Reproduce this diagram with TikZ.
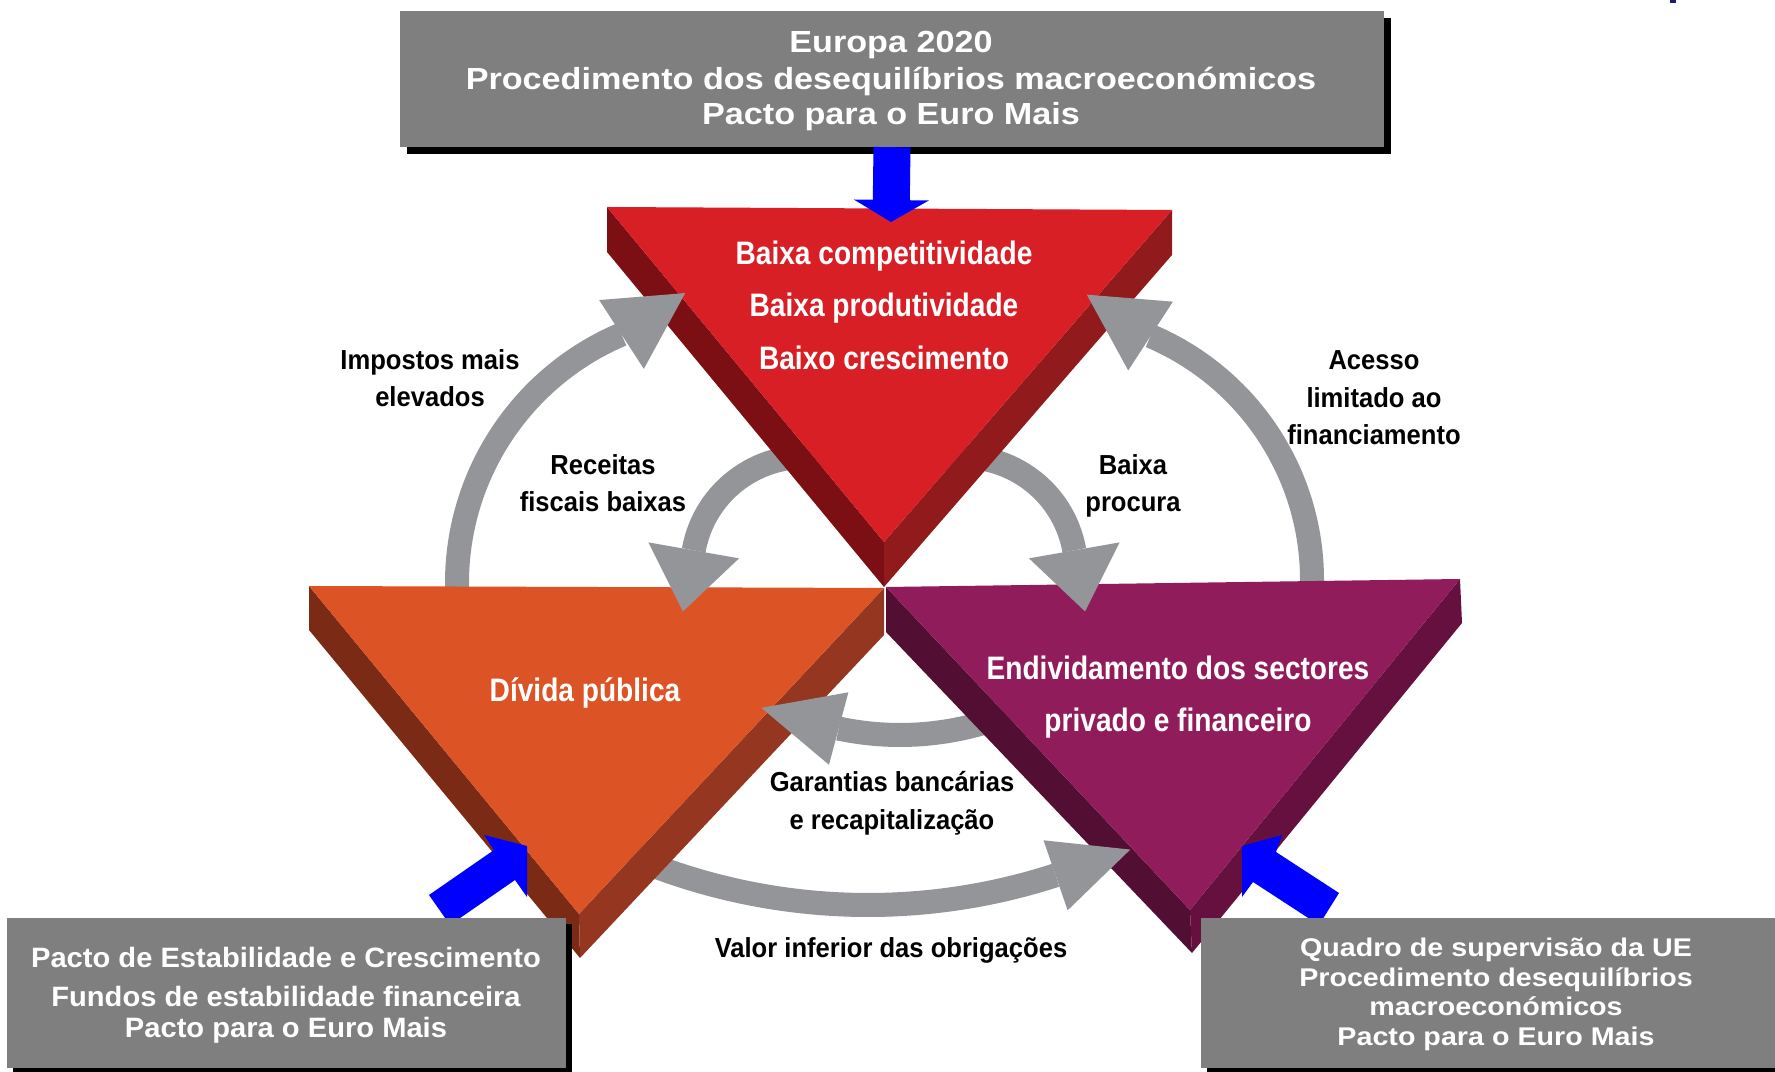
\documentclass[tikz,border=0pt]{standalone}
\usepackage{fontspec}
\setmainfont{Liberation Sans}
\newfontfamily\topfont[FakeStretch=1.12]{Liberation Sans}
\newfontfamily\rboxfont[FakeStretch=1.12]{Liberation Sans}
\newfontfamily\lboxfont[FakeStretch=1.04]{Liberation Sans}
\newfontfamily\trifont[FakeStretch=0.865]{Liberation Sans}
\newfontfamily\labfont[FakeStretch=0.93]{Liberation Sans}
\usetikzlibrary{arrows.meta}
\definecolor{redF}{HTML}{D81F26}
\definecolor{redL}{HTML}{7B0F14}
\definecolor{redR}{HTML}{911A1D}
\definecolor{orF}{HTML}{DC5426}
\definecolor{orL}{HTML}{7B2A15}
\definecolor{orR}{HTML}{943620}
\definecolor{puF}{HTML}{911C5B}
\definecolor{puL}{HTML}{520F33}
\definecolor{puR}{HTML}{65103E}
\definecolor{agray}{HTML}{939598}
\definecolor{bgray}{HTML}{7F7F7F}
\definecolor{navy}{HTML}{1A1A6E}
\begin{document}
\begin{tikzpicture}[x=1pt,y=1pt,
  gshaft/.style={draw=agray,line width=24pt},
  bigtip/.style={-{Triangle[length=76pt,width=82pt,line width=0pt]}},
  smalltip/.style={-{Triangle[length=62pt,width=92pt,line width=0pt]}},
  midtip/.style={-{Triangle[length=80pt,width=75pt,line width=0pt]}},
  bluearrow/.style={draw=blue,line width=37pt,-{Triangle[length=22pt,width=75pt,line width=0pt]}},
  bluefill/.style={fill=blue},
  boxnode/.style={fill=bgray,inner sep=0pt},
  topt/.style={text=white,anchor=base,inner sep=0pt,font=\topfont\bfseries\fontsize{30.5}{36}\selectfont},
  lboxt/.style={text=white,anchor=base,inner sep=0pt,font=\lboxfont\bfseries\fontsize{28}{34}\selectfont},
  rboxt/.style={text=white,anchor=base,inner sep=0pt,font=\rboxfont\bfseries\fontsize{25.6}{30}\selectfont},
  trit/.style={text=white,anchor=base,inner sep=0pt,font=\trifont\bfseries\fontsize{32.5}{38}\selectfont},
  labt/.style={text=black,anchor=base,inner sep=0pt,font=\labfont\bfseries\fontsize{27.5}{33}\selectfont}]
\useasboundingbox (0,0) rectangle (1775,1071);
\fill[white] (0,0) rectangle (1775,1071);
\fill[navy] (1670,1068) rectangle (1676,1071);

% --- triangle corner coordinates
\coordinate (rTL) at (607,864); \coordinate (rTR) at (1172,861); \coordinate (rT) at (884,529);
\coordinate (rBL) at (607,819); \coordinate (rBR) at (1172,816); \coordinate (rB) at (884,484);
\coordinate (oTL) at (309,485); \coordinate (oTR) at (884,483); \coordinate (oT) at (579,157);
\coordinate (oBL) at (309,441); \coordinate (oBR) at (884,436); \coordinate (oB) at (580,113);
\coordinate (pTL) at (886,484); \coordinate (pTR) at (1460,492); \coordinate (pT) at (1190,161);
\coordinate (pBL) at (886,439); \coordinate (pBR) at (1462,448); \coordinate (pB) at (1192,118);

% --- arc centres
\coordinate (c1) at (727,488);
\coordinate (c2) at (1047,491);
\coordinate (c3) at (805,501);
\coordinate (c4) at (963,501);
\coordinate (c5) at (900,631);
\coordinate (c6) at (868,773);

% --- grey connector bodies (under the triangles)
\draw[gshaft] (457,470) -- ([shift={(180:270)}]c1) arc[start angle=180,end angle=113,radius=270] coordinate (a1e);
\draw[gshaft] (1312,470) -- ([shift={(0:265)}]c2) arc[start angle=0,end angle=67,radius=265] coordinate (a2e);
\draw[gshaft] ([shift={(80:113)}]c3) arc[start angle=80,end angle=170,radius=113] coordinate (a3e);
\draw[gshaft] ([shift={(100:113)}]c4) arc[start angle=100,end angle=10,radius=113] coordinate (a4e);
\draw[gshaft] ([shift={(-65:295)}]c5) arc[start angle=-65,end angle=-102,radius=295] coordinate (a5e);
\draw[gshaft] ([shift={(-113:607)}]c6) arc[start angle=-113,end angle=-72,radius=607] coordinate (a6e);

% --- triangles
\fill[redL] (rTL) -- (rT) -- (rB) -- (rBL) -- cycle;
\fill[redR] (rTR) -- (rT) -- (rB) -- (rBR) -- cycle;
\fill[redF] (rTL) -- (rTR) -- (rT) -- cycle;
\fill[orL] (oTL) -- (oT) -- (oB) -- (oBL) -- cycle;
\fill[orR] (oTR) -- (oT) -- (oB) -- (oBR) -- cycle;
\fill[orF] (oTL) -- (oTR) -- (oT) -- cycle;
\fill[puL] (pTL) -- (pT) -- (pB) -- (pBL) -- cycle;
\fill[puR] (pTR) -- (pT) -- (pB) -- (pBR) -- cycle;
\fill[puF] (pTL) -- (pTR) -- (pT) -- cycle;

% --- grey arrow heads (over the triangles)
\draw[gshaft,bigtip] (a1e) -- ++(33:76);
\draw[gshaft,bigtip] (a2e) -- ++(147:76);
\draw[gshaft,smalltip] (a3e) -- ++(260:62);
\draw[gshaft,smalltip] (a4e) -- ++(280:62);
\draw[gshaft,midtip] (a5e) -- ++(165:80);
\draw[gshaft,-{Triangle[length=79pt,width=74pt,line width=0pt]}] (a6e) -- ++(19:79);

% --- boxes
\fill[black] (407,917) rectangle (1391,1053);
\node[boxnode,minimum width=984pt,minimum height=136pt] (topbox) at (892,992) {};
\coordinate (redtop) at (891,849);
\draw[bluearrow] (topbox.south) -- (redtop);

\fill[bluefill] (450,146) -- (429,176) -- (494,221) -- (484,236) -- (527,225) -- (527,174) -- (515,191) -- cycle;
\fill[bluefill] (1319,146) -- (1339,178) -- (1276,219) -- (1282,236) -- (1242,225) -- (1242,174) -- (1253,189) -- cycle;

\fill[black] (13,-5) rectangle (572,147);
\node[boxnode,minimum width=559pt,minimum height=150pt] (lbox) at (286.5,78) {};
\fill[black] (1207,-5) rectangle (1781,147);
\node[boxnode,minimum width=574pt,minimum height=150pt] (rbox) at (1488,78) {};

% --- texts
\node[topt] (t1) at (891,1018) {Europa 2020};
\node[topt] (t2) at (891,981) {Procedimento dos desequilíbrios macroeconómicos};
\node[topt] (t3) at (891,946) {Pacto para o Euro Mais};

\node[trit] (r1) at (884,806) {Baixa competitividade};
\node[trit] (r2) at (884,754) {Baixa produtividade};
\node[trit] (r3) at (884,701) {Baixo crescimento};
\node[trit] (o1) at (585,369) {Dívida pública};
\node[trit] (p1) at (1178,391) {Endividamento dos sectores};
\node[trit] (p2) at (1178,339) {privado e financeiro};

\node[labt] (la1) at (430,701) {Impostos mais};
\node[labt] (la2) at (430,664) {elevados};
\node[labt] (lb1) at (603,596) {Receitas};
\node[labt] (lb2) at (603,559) {fiscais baixas};
\node[labt] (lc1) at (1133,596) {Baixa};
\node[labt] (lc2) at (1133,559) {procura};
\node[labt] (ld1) at (1374,701) {Acesso};
\node[labt] (ld2) at (1374,663) {limitado ao};
\node[labt] (ld3) at (1374,626) {financiamento};
\node[labt] (le1) at (892,279) {Garantias bancárias};
\node[labt] (le2) at (892,241) {e recapitalização};
\node[labt] (lf1) at (891,113) {Valor inferior das obrigações};

\node[lboxt] (b1) at (286,103) {Pacto de Estabilidade e Crescimento};
\node[lboxt] (b2) at (286,64) {Fundos de estabilidade financeira};
\node[lboxt] (b3) at (286,34) {Pacto para o Euro Mais};

\node[rboxt] (q1) at (1496,114) {Quadro de supervisão da UE};
\node[rboxt] (q2) at (1496,84) {Procedimento desequilíbrios};
\node[rboxt] (q3) at (1496,55) {macroeconómicos};
\node[rboxt] (q4) at (1496,26) {Pacto para o Euro Mais};
\end{tikzpicture}
\end{document}
